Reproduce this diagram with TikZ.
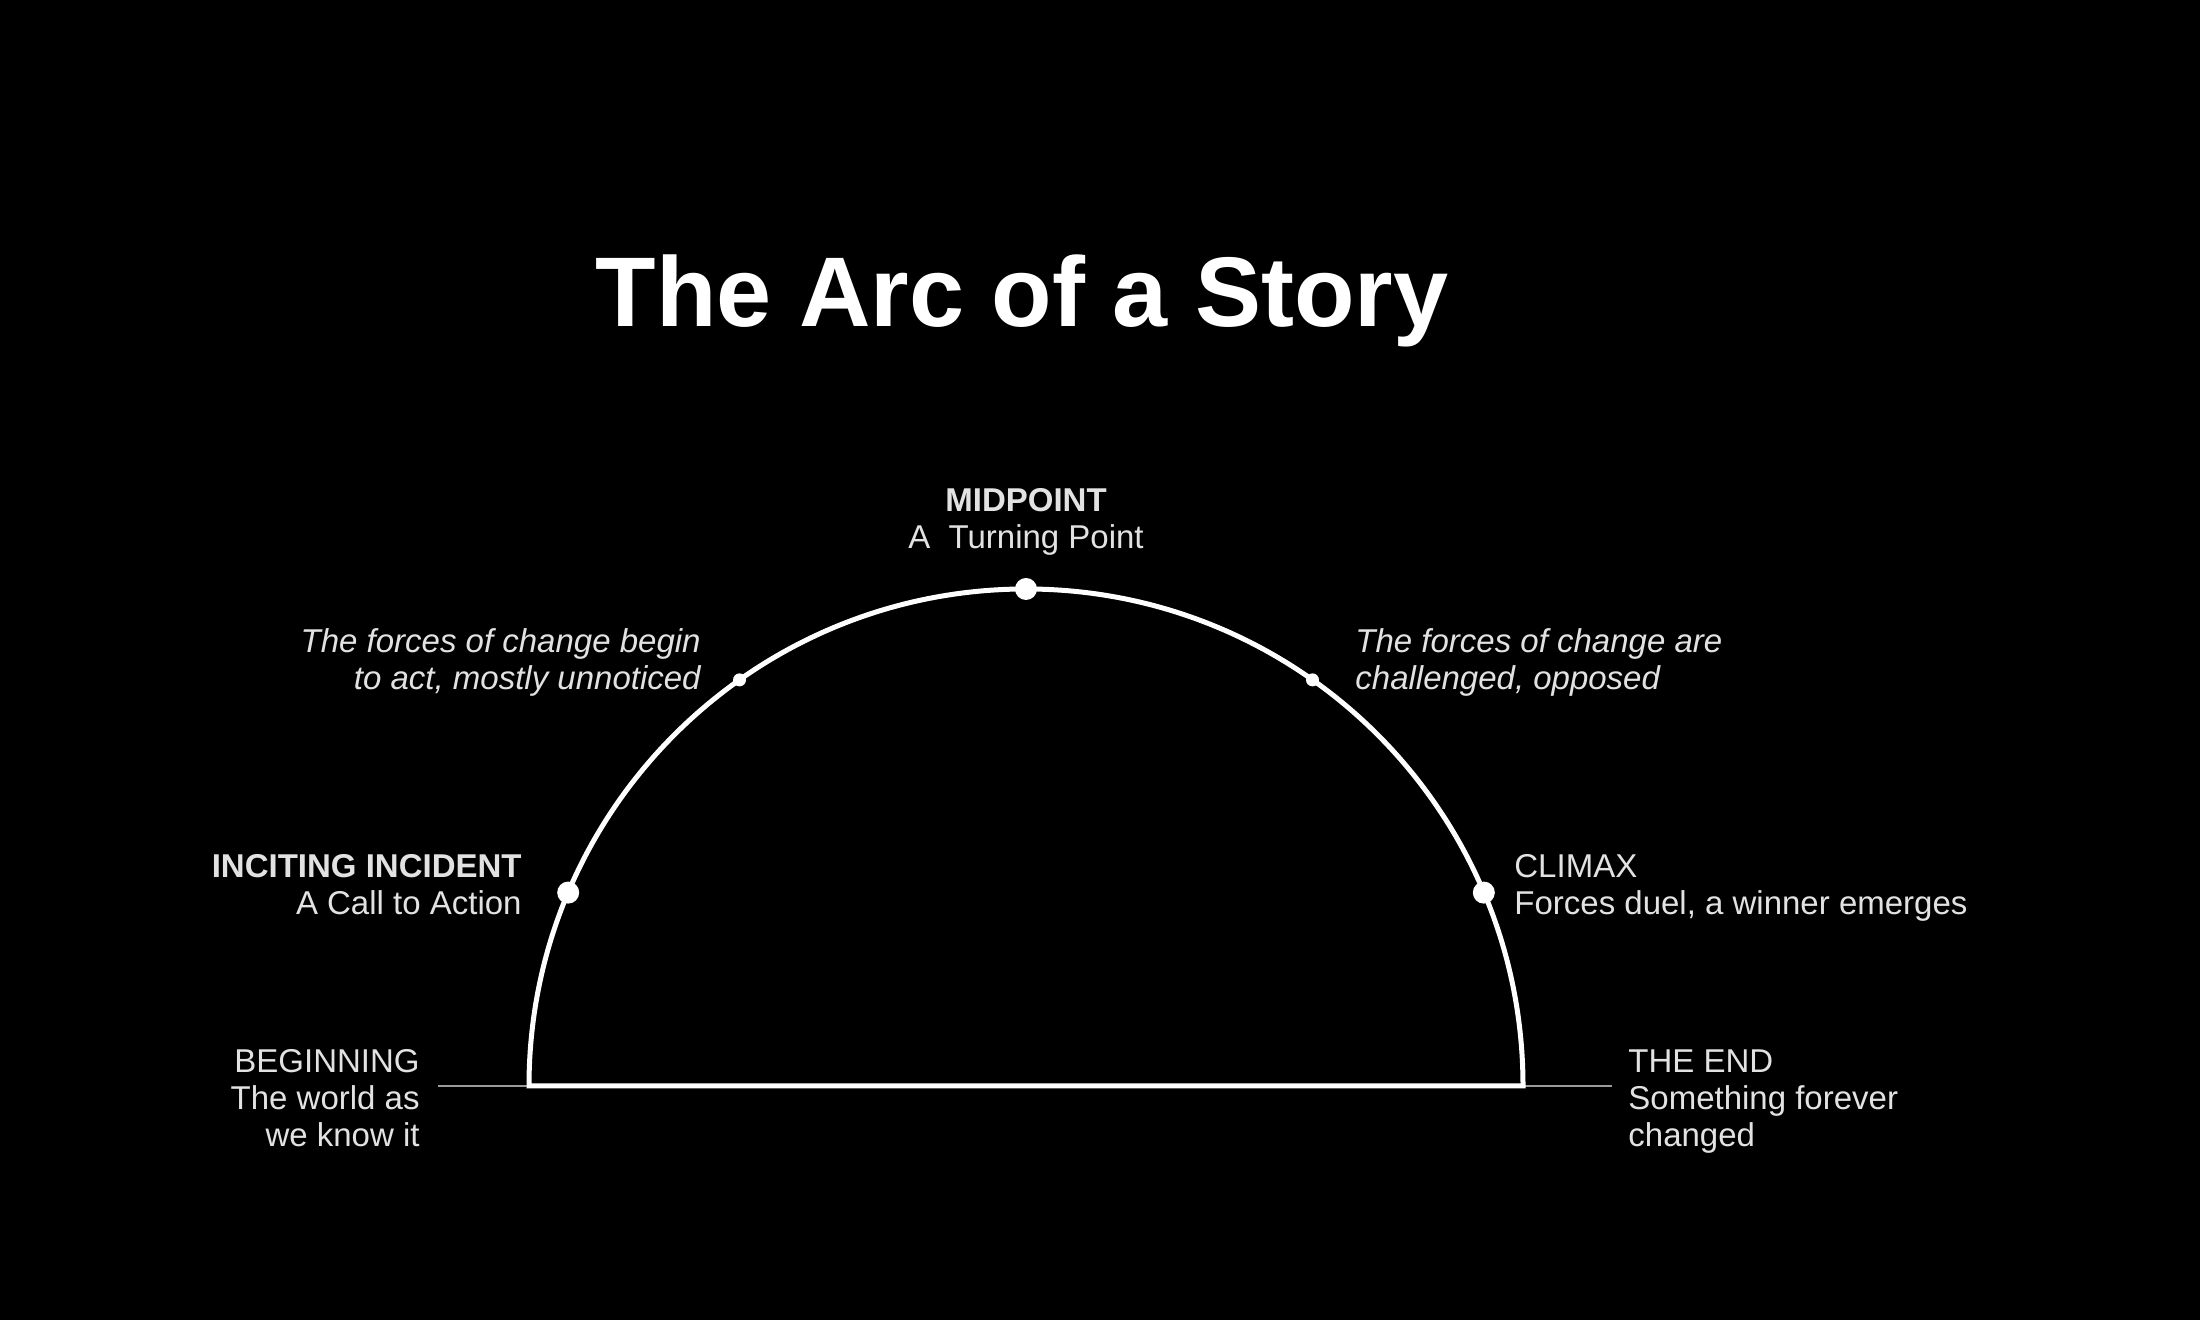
\documentclass[tikz,border=0pt]{standalone}
\usepackage{fontspec}
\setmainfont{Liberation Sans}
\definecolor{labelgray}{HTML}{E2E2E2}
\definecolor{basegray}{HTML}{9A9A9A}
\begin{document}
\begin{tikzpicture}[x=0.5pt,y=0.5pt,
  lbl/.style={text=labelgray, font=\fontsize{16.5}{18.5}\selectfont, inner sep=0pt},
  lblit/.style={lbl, font=\fontsize{16.5}{18.5}\selectfont\itshape},
  arcline/.style={draw=white, line width=2.5pt, line join=miter},
  baseline/.style={draw=basegray, line width=0.8pt},
  bigdot/.style={circle, fill=white, inner sep=0pt, minimum size=11pt},
  smalldot/.style={circle, fill=white, inner sep=0pt, minimum size=6.5pt}]
\fill[black] (0,0) rectangle (2200,1320);
\useasboundingbox (0,0) rectangle (2200,1320);

\node[anchor=base, text=white, inner sep=0pt, font=\fontsize{49.5}{52}\selectfont\bfseries] (title) at (1022,993) {The Arc of a Story};

\coordinate (C) at (1026,234);
\coordinate (L) at (529,234);
\coordinate (R) at (1523,234);
\coordinate (bl) at (438,234);
\coordinate (br) at (1612,234);

\draw[baseline] (bl) -- (br);
\draw[arcline] (R) -- (L) arc[start angle=180, end angle=0, radius=497] -- cycle;

\node[bigdot] (inciting) at ([shift={(157.1:497)}]C) {};
\node[smalldot] (forces1) at ([shift={(125.2:497)}]C) {};
\node[bigdot] (mid) at ([shift={(90:497)}]C) {};
\node[smalldot] (forces2) at ([shift={(54.8:497)}]C) {};
\node[bigdot] (climax) at ([shift={(22.9:497)}]C) {};

\node[lbl, anchor=base, align=center] (midlbl) at (1026,771) {\textbf{MIDPOINT}\\A\ \ Turning Point};
\node[lblit, anchor=base east, align=right] (f1lbl) at (701,630) {The forces of change begin\\to act, mostly unnoticed};
\node[lblit, anchor=base west, align=left] (f2lbl) at (1355,630) {The forces of change are\\challenged, opposed};
\node[lbl, anchor=base east, align=right] (inclbl) at (522,405) {\textbf{INCITING INCIDENT}\\A Call to Action};
\node[lbl, anchor=base west, align=left] (climlbl) at (1514,405) {CLIMAX\\Forces duel, a winner emerges};
\node[lbl, anchor=base east, align=right] (beglbl) at (420,173) {BEGINNING\\The world as\\we know it};
\node[lbl, anchor=base west, align=left] (endlbl) at (1628,173) {THE END\\Something forever\\changed};
\end{tikzpicture}
\end{document}
